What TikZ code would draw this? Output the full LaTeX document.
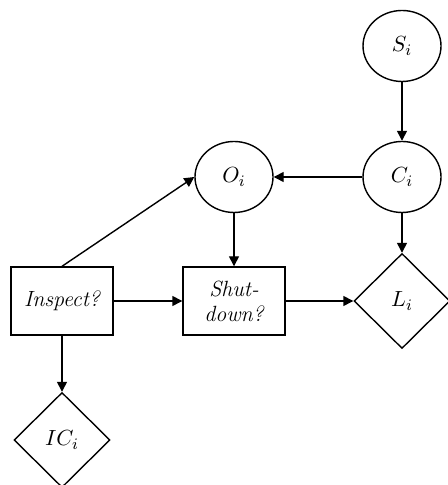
\documentclass[tikz,border=0pt]{standalone}
\usepackage{tikz}
\usetikzlibrary{shapes.geometric,arrows.meta}

\tikzset{
	chance/.style={draw, ellipse, inner sep=0pt, minimum width=39pt, minimum height=35.5pt},
	decision/.style={draw, rectangle, inner sep=1pt, minimum width=51pt, minimum height=34pt, align=center, font=\fontsize{11}{12.5}\selectfont\itshape},
	utility/.style={draw, diamond, inner sep=0pt, minimum width=48pt, minimum height=47.5pt, font=\fontsize{11}{13}\selectfont},
	link/.style={-{Triangle[length=5pt,width=5pt]}}
}

\begin{document}
\begin{tikzpicture}[x=0.5pt, y=0.5pt, line width=0.7pt]
	\useasboundingbox (0,0) rectangle (447,485);

	%chance nodes
	\node[chance,
	font=\fontsize{11}{13}\selectfont] (S) at (402,439){$S_i$};

	\node[chance,
	font=\fontsize{11}{13}\selectfont] (C) at (402,308){$C_i$};

	\node[chance,
	font=\fontsize{11}{13}\selectfont] (O) at (234,308){$O_i$};

	%decisions
	\node[decision] (Inspect) at (62,184){Inspect?};

	\node[decision] (Shutdown) at (234,184){Shut-\\down?};

	%utilities
	\node[utility] (L) at (402,184){$L_i$};

	\node[utility] (IC) at (62,45){$IC_i$};

	%arcs
	\draw[link] (S) -- (C);
	\draw[link] (C) -- (O);
	\draw[link] (C) -- (L);
	\draw[link] (O) -- (Shutdown);
	\draw[link] (Inspect.north) -- (O.west);
	\draw[link] (Inspect) -- (Shutdown);
	\draw[link] (Shutdown) -- (L);
	\draw[link] (Inspect) -- (IC);
\end{tikzpicture}
\end{document}
